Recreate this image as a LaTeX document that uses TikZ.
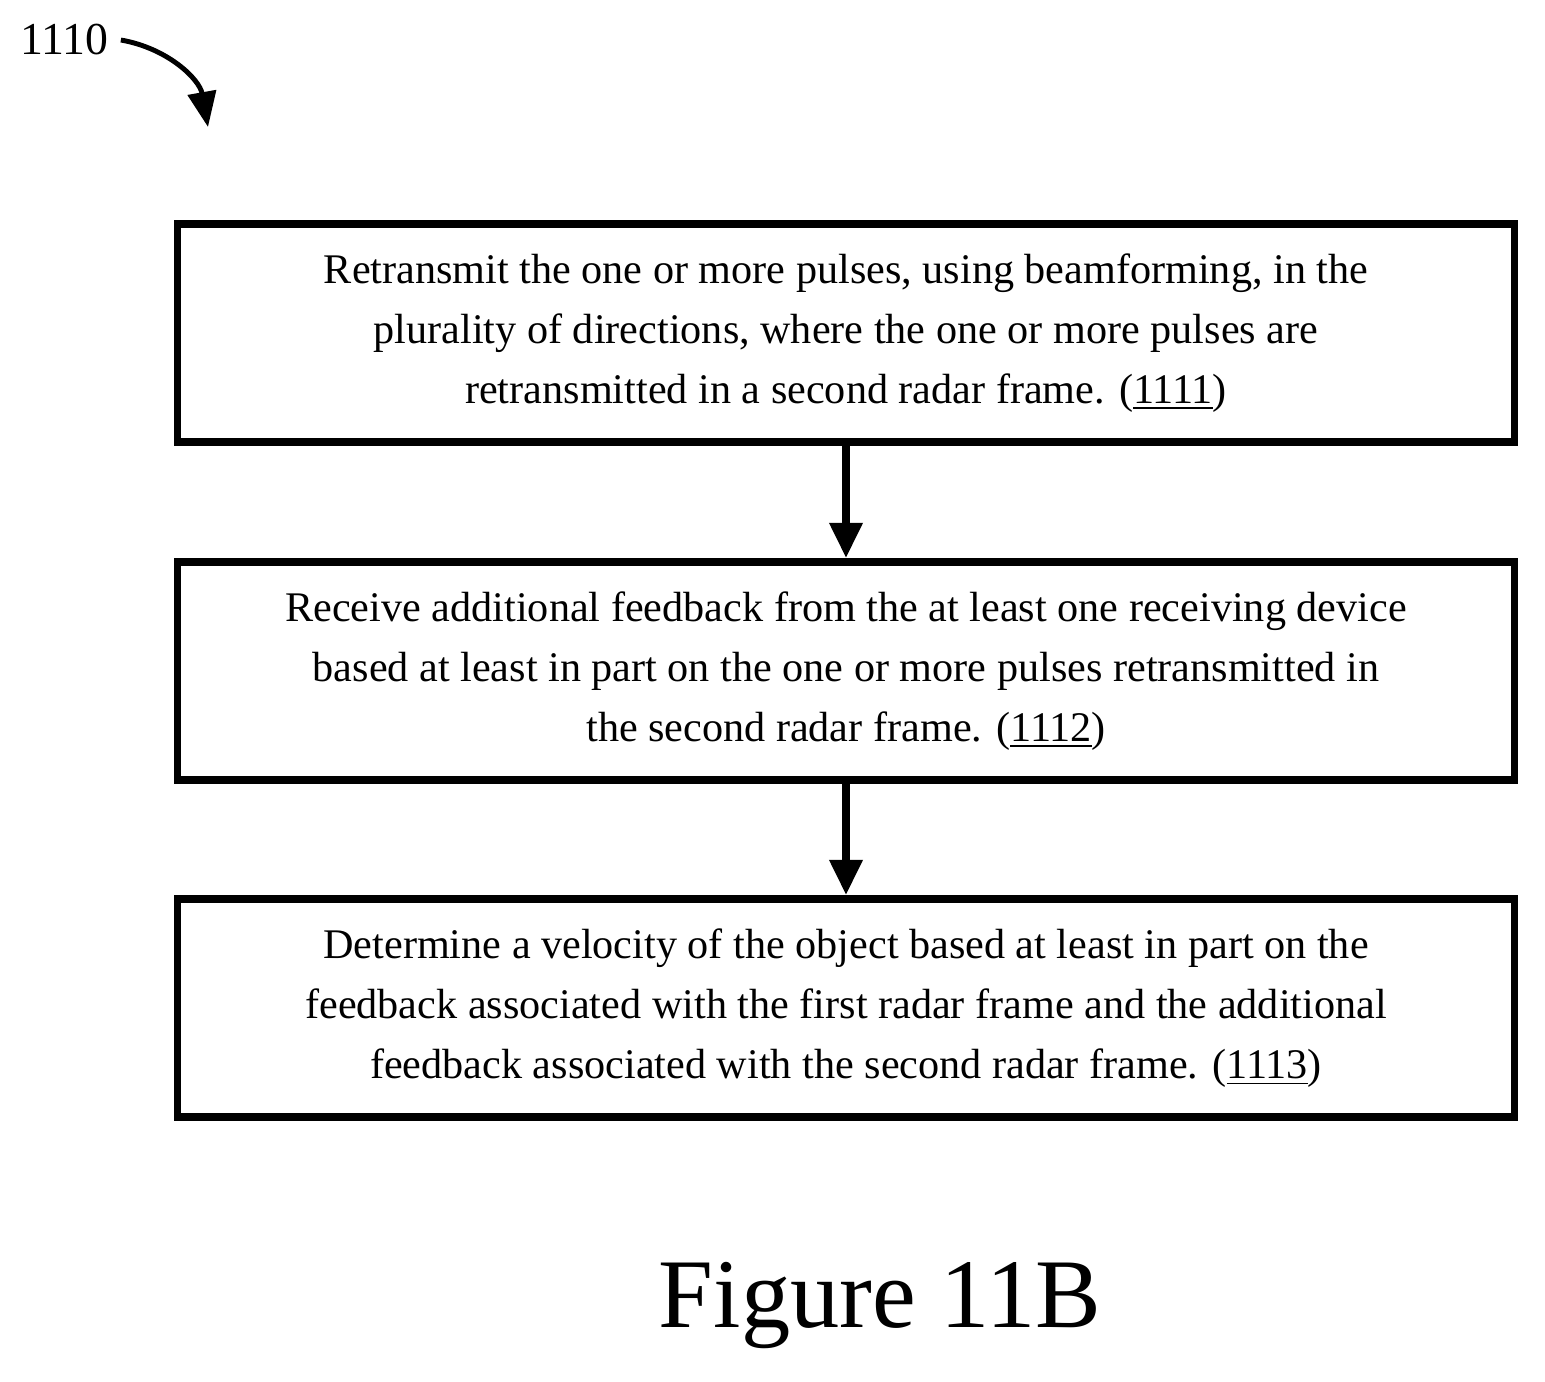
\documentclass[tikz,border=0pt]{standalone}
\usepackage{fontspec}
\setmainfont{Liberation Serif}
\usetikzlibrary{arrows.meta}
\tikzset{
  stepbox/.style={draw, line width=2.2pt, minimum width=13.36cm, minimum height=2.18cm,
    align=center, font=\fontsize{12pt}{17pt}\selectfont},
  flow/.style={-{Triangle[length=10pt,width=9pt]}, line width=2.2pt}
}
\begin{document}
\begin{tikzpicture}[x=0.01cm,y=-0.01cm]
        \useasboundingbox (0,0) rectangle (1545,1381);
        \node[stepbox] (s1) at (846, 333) {Retransmit the one or more pulses, using beamforming, in the\\ plurality of directions, where the one or more pulses are\\ retransmitted in a second radar frame. (\underline{1111})};
        \node[stepbox] (s2) at (846, 671) {Receive additional feedback from the at least one receiving device\\ based at least in part on the one or more pulses retransmitted in\\ the second radar frame. (\underline{1112})};
        \node[stepbox] (s3) at (846, 1008) {Determine a velocity of the object based at least in part on the\\ feedback associated with the first radar frame and the additional\\ feedback associated with the second radar frame. (\underline{1113})};

        \draw[flow] (s1) to (s2);
        \draw[flow] (s2) to (s3);

        \node[font=\fontsize{13pt}{15pt}\selectfont, anchor=west] (lbl) at (8, 40) {1110};
        \coordinate (tip) at (208, 127);
        \draw[-{Triangle[length=10pt,width=8pt]}, line width=1.4pt] (lbl.east) to[bend left=35] (tip);

        \node[font=\fontsize{28pt}{32pt}\selectfont] (fig) at (880, 1306) {Figure 11B};
\end{tikzpicture}
\end{document}
